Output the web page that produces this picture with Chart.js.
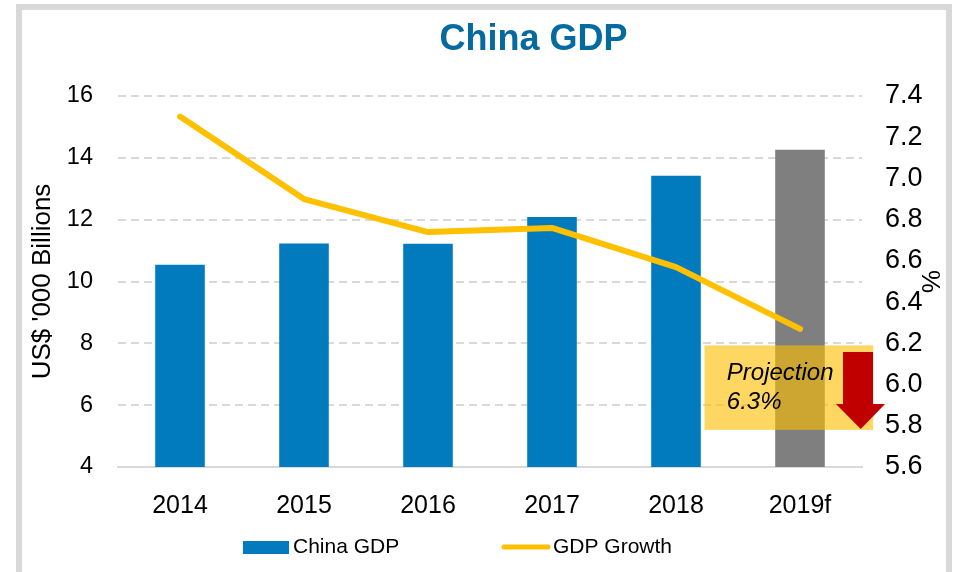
<!DOCTYPE html>
<html>
<head>
<meta charset="utf-8">
<script src="https://cdn.jsdelivr.net/npm/chart.js@4.4.0/dist/chart.umd.min.js"></script>
<style>
  html, body { margin: 0; padding: 0; background: #fff; overflow: hidden; }
  #frame { position: absolute; left: 16px; top: 4px; width: 936px; height: 640px; box-sizing: border-box; border: 6px solid #d9d9d9; }
  #gdpChart { position: absolute; left: 0; top: 0; }
</style>
</head>
<body>
<div id="frame"></div>
<canvas id="gdpChart" width="961" height="572"></canvas>
<script>
// Data
const years = ["2014", "2015", "2016", "2017", "2018", "2019f"];
const gdp = [10.54, 11.23, 11.22, 12.09, 13.42, 14.26];
const growth = [7.30, 6.90, 6.74, 6.76, 6.57, 6.27];
const barColors = ["#017bbd", "#017bbd", "#017bbd", "#017bbd", "#017bbd", "#7f7f7f"];

const FONT = '"Liberation Sans", Arial, sans-serif';
Chart.defaults.font.family = FONT;
Chart.defaults.color = "#000";

// Projection call-out, in category index / % units
const projBox = { x0: 4.23, x1: 5.59, top: 6.19, bottom: 5.78 };
const projArrow = { left: 5.347, right: 5.589, headLeft: 5.29, headRight: 5.686, tip: 5.49, top: 6.158, neck: 5.906, bottom: 5.784 };
const projText = { x: 4.41, lines: ["Projection", "6.3%"], y: [6.022, 5.881] };

const projectionPlugin = {
  id: "projection",
  afterDatasetsDraw(chart) {
    const { ctx } = chart;
    const px = v => chart.scales.x.getPixelForValue(v);
    const py = v => chart.scales.y1.getPixelForValue(v);
    ctx.save();
    ctx.fillStyle = "rgba(252, 190, 0, 0.62)";
    ctx.fillRect(px(projBox.x0), py(projBox.top), px(projBox.x1) - px(projBox.x0), py(projBox.bottom) - py(projBox.top));

    ctx.fillStyle = "#c00000";
    ctx.beginPath();
    ctx.moveTo(px(projArrow.left), py(projArrow.top));
    ctx.lineTo(px(projArrow.right), py(projArrow.top));
    ctx.lineTo(px(projArrow.right), py(projArrow.neck));
    ctx.lineTo(px(projArrow.headRight), py(projArrow.neck));
    ctx.lineTo(px(projArrow.tip), py(projArrow.bottom));
    ctx.lineTo(px(projArrow.headLeft), py(projArrow.neck));
    ctx.lineTo(px(projArrow.left), py(projArrow.neck));
    ctx.closePath();
    ctx.fill();

    ctx.fillStyle = "#000";
    ctx.font = "italic 24px " + FONT;
    ctx.textAlign = "left";
    ctx.textBaseline = "alphabetic";
    projText.lines.forEach((t, i) => ctx.fillText(t, px(projText.x), py(projText.y[i])));
    ctx.restore();
  }
};

// Legend drawn under the axis, like the original
const legendPlugin = {
  id: "bottomLegend",
  afterDraw(chart) {
    const { ctx } = chart;
    const bars = chart.data.datasets.find(d => d.type === "bar");
    const line = chart.data.datasets.find(d => d.type === "line");
    const y = 547;
    ctx.save();
    ctx.font = "21px " + FONT;
    ctx.textBaseline = "middle";
    ctx.textAlign = "left";
    ctx.fillStyle = bars.backgroundColor[0];
    ctx.fillRect(243, 541, 46, 13);
    ctx.fillStyle = "#000";
    ctx.fillText(bars.label, 293, y);
    ctx.strokeStyle = line.borderColor;
    ctx.lineWidth = 5;
    ctx.lineCap = "round";
    ctx.beginPath();
    ctx.moveTo(504, y);
    ctx.lineTo(548, y);
    ctx.stroke();
    ctx.fillStyle = "#000";
    ctx.fillText(line.label, 553, y);
    ctx.restore();
  }
};

// Title sits a bit right of centre in the original
const titleShift = {
  id: "titleShift",
  afterLayout(chart) {
    chart.titleBlock.left += 106;
  }
};

new Chart(document.getElementById("gdpChart"), {
  data: {
    labels: years,
    datasets: [
      {
        type: "line",
        label: "GDP Growth",
        data: growth,
        yAxisID: "y1",
        borderColor: "#ffc000",
        borderWidth: 6,
        borderCapStyle: "round",
        borderJoinStyle: "round",
        pointRadius: 0,
        tension: 0,
        order: 1
      },
      {
        type: "bar",
        label: "China GDP",
        data: gdp,
        yAxisID: "y",
        backgroundColor: barColors,
        barPercentage: 0.4,
        categoryPercentage: 1,
        order: 2
      }
    ]
  },
  options: {
    responsive: false,
    animation: false,
    layout: { padding: 0 },
    plugins: {
      legend: { display: false },
      tooltip: { enabled: false },
      title: {
        display: true,
        text: "China GDP",
        color: "#056a9f",
        font: { size: 36, weight: "bold" },
        padding: { top: 18.4, bottom: 34.4 }
      }
    },
    scales: {
      x: {
        grid: { display: false },
        border: { display: true, color: "#d9d9d9", width: 2 },
        ticks: { font: { size: 25 }, padding: 16 },
        afterFit(scale) { scale.height = 105; }
      },
      y: {
        position: "left",
        min: 4,
        max: 16,
        ticks: { stepSize: 2, font: { size: 23.5 }, padding: 25 },
        grid: { color: "#d9d9d9", lineWidth: 2, drawTicks: false },
        border: { display: false, dash: [8, 5] },
        title: { display: true, text: "US$ '000 Billions", font: { size: 26 }, padding: { top: 27 } },
        afterFit(scale) { scale.width = 118; }
      },
      y1: {
        position: "right",
        min: 5.6,
        max: 7.4,
        ticks: { stepSize: 0.2, font: { size: 27 }, padding: 23, callback: v => v.toFixed(1) },
        grid: { display: false, drawTicks: false },
        border: { display: false },
        title: { display: true, text: "%", font: { size: 26 }, padding: { top: 16 } },
        afterFit(scale) { scale.width = 99; }
      }
    }
  },
  plugins: [titleShift, projectionPlugin, legendPlugin]
});
</script>
</body>
</html>
